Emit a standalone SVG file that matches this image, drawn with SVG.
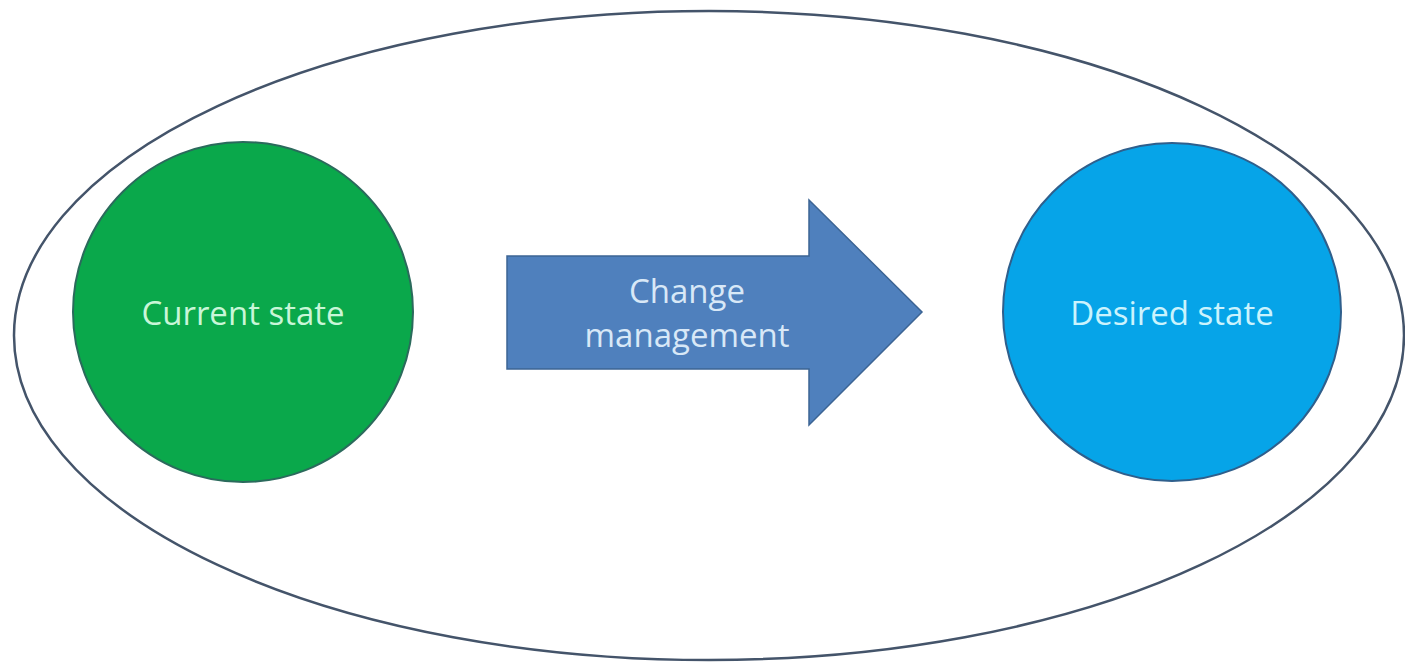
<svg xmlns="http://www.w3.org/2000/svg" width="1405" height="662" viewBox="0 0 1405 662">
  <style>
    .label { font-family: "Open Sans", "Noto Sans", "Liberation Sans", sans-serif; font-size: 33px; text-anchor: middle; }
    .state { stroke-width: 2; }
  </style>
  <rect width="1405" height="662" fill="#ffffff"/>

  <!-- enclosing boundary -->
  <g id="boundary">
    <ellipse cx="709" cy="335.5" rx="695" ry="324.5" fill="none" stroke="#44546a" stroke-width="2.5"/>
  </g>

  <g id="current-state">
    <circle class="state" cx="243" cy="312" r="170" fill="#0aa84b" stroke="#2b6a5c"/>
    <text class="label" x="243" y="325" fill="#c9f6d8">Current state</text>
  </g>

  <g id="desired-state">
    <circle class="state" cx="1172" cy="312" r="169" fill="#06a4e8" stroke="#2f5f8c"/>
    <text class="label" x="1172" y="325" fill="#cbf3fd">Desired state</text>
  </g>

  <g id="connectors">
    <g id="change-management">
      <path d="M507,256 L809,256 L809,200 L922,312 L809,425 L809,369 L507,369 Z" fill="#4f80bd" stroke="#3c6494" stroke-width="1.5" stroke-linejoin="miter"/>
      <text class="label" x="687" y="303" fill="#d8e8f7">Change</text>
      <text class="label" x="687" y="347" fill="#d8e8f7">management</text>
    </g>
  </g>
</svg>
